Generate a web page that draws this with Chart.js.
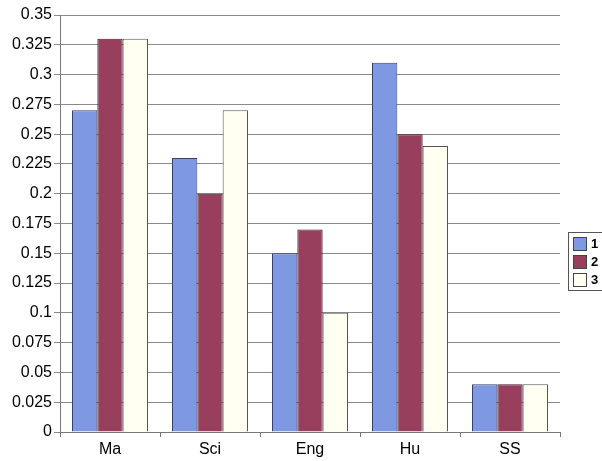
<!DOCTYPE html>
<html>
<head>
<meta charset="utf-8">
<script src="https://cdn.jsdelivr.net/npm/chart.js@4/dist/chart.umd.min.js"></script>
<style>
  html, body { margin: 0; padding: 0; background: #ffffff; }
  #wrap { width: 602px; height: 461px; position: relative; }
</style>
</head>
<body>
<div id="wrap"><canvas id="c" width="602" height="461"></canvas></div>
<script>
const categories = ['Ma', 'Sci', 'Eng', 'Hu', 'SS'];
const seriesNames = ['1', '2', '3'];
const series1 = [0.27, 0.23, 0.15, 0.31, 0.04];
const series2 = [0.33, 0.20, 0.17, 0.25, 0.04];
const series3 = [0.33, 0.27, 0.10, 0.24, 0.04];
const yTicks = [0, 0.025, 0.05, 0.075, 0.1, 0.125, 0.15, 0.175, 0.2, 0.225, 0.25, 0.275, 0.3, 0.325, 0.35];

const fills = ['#7f98e2', '#983f5e', '#fffff2'];
const edges = ['#3a3f6a', '#3a2030', '#555555'];
const FONT = '"Liberation Sans", Arial, sans-serif';

// Boxed legend on the right-hand side
const boxLegend = {
  id: 'boxLegend',
  afterDraw(chart) {
    const ctx = chart.ctx;
    const x = 568, y = 232, w = 40, h = 58;
    ctx.save();
    ctx.strokeStyle = '#555555';
    ctx.lineWidth = 1;
    ctx.strokeRect(x + 0.5, y + 0.5, w, h);
    ctx.font = 'bold 13px ' + FONT;
    ctx.textBaseline = 'middle';
    chart.data.datasets.forEach((ds, i) => {
      const iy = y + 5 + i * 18;
      ctx.fillStyle = ds.backgroundColor;
      ctx.fillRect(x + 5.5, iy + 0.5, 13, 13);
      ctx.strokeStyle = '#444444';
      ctx.strokeRect(x + 5.5, iy + 0.5, 13, 13);
      ctx.fillStyle = '#000000';
      ctx.fillText(ds.label, x + 23, iy + 7.5);
    });
    ctx.restore();
  }
};

new Chart(document.getElementById('c'), {
  type: 'bar',
  data: {
    labels: categories,
    datasets: [series1, series2, series3].map((d, i) => ({
      label: seriesNames[i],
      data: d,
      backgroundColor: fills[i],
      borderColor: edges[i],
      borderWidth: 1,
      barPercentage: 1,
      categoryPercentage: 0.76
    }))
  },
  options: {
    responsive: false,
    animation: false,
    devicePixelRatio: 1,
    layout: { padding: { top: 15, right: 42, bottom: 0, left: 0 } },
    plugins: {
      legend: { display: false },
      tooltip: { enabled: false }
    },
    scales: {
      x: {
        offset: true,
        afterFit(axis) { axis.height = 29; },
        grid: {
          offset: true,
          drawOnChartArea: false,
          drawTicks: true,
          tickLength: 5,
          color: '#777777'
        },
        border: { color: '#777777' },
        ticks: {
          color: '#000000',
          font: { family: FONT, size: 16 },
          padding: 3
        }
      },
      y: {
        min: 0,
        max: 0.35,
        afterFit(axis) { axis.width = 60; },
        afterBuildTicks(axis) {
          axis.ticks = yTicks.map(v => ({ value: v }));
        },
        grid: {
          color: '#8a8a8a',
          tickLength: 6,
          drawTicks: true
        },
        border: { color: '#777777' },
        ticks: {
          color: '#000000',
          font: { family: FONT, size: 16 },
          padding: 2,
          callback: v => String(+v.toFixed(3))
        }
      }
    }
  },
  plugins: [boxLegend]
});
</script>
</body>
</html>
